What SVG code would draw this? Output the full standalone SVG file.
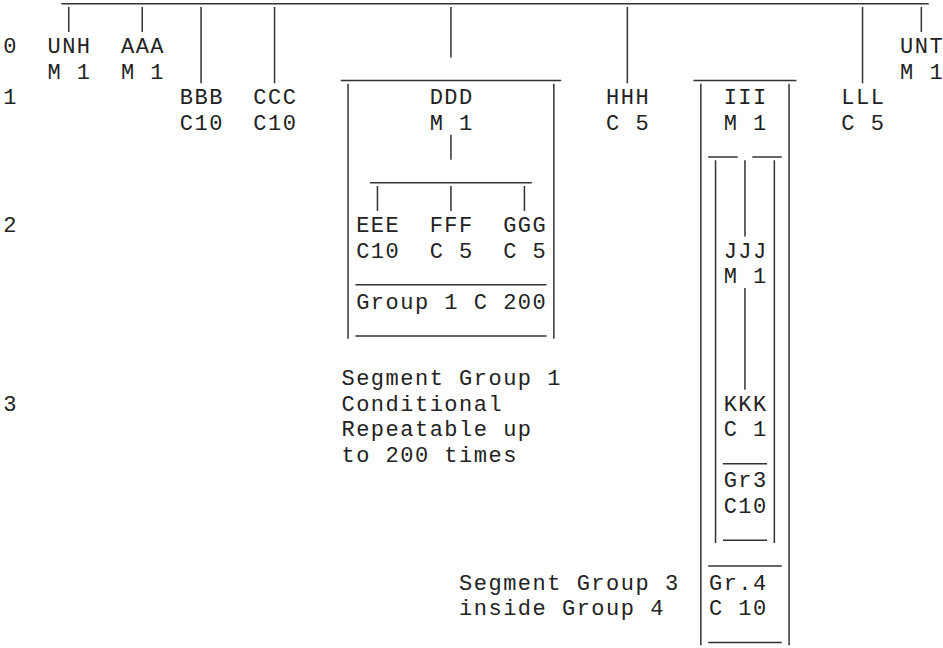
<svg xmlns="http://www.w3.org/2000/svg" width="943" height="648" viewBox="0 0 943 648">
<style>
.t{font-family:"Liberation Mono","Courier New",monospace;font-size:22px;letter-spacing:1.5px;fill:#222;white-space:pre}
.l{stroke:#333;stroke-width:1.5;fill:none}
</style>
<rect width="943" height="648" fill="#fff"/>
<g id="levels">
<text class="t" x="3.35" y="53.1">0</text>
<text class="t" x="3.35" y="104.2">1</text>
<text class="t" x="3.35" y="231.95">2</text>
<text class="t" x="3.35" y="410.8">3</text>
</g>
<g id="connectors" class="l">
<path d="M61.4 3.8H928.7"/>
<path d="M68.75 7.05V32.05M142.25 7.05V32.05M921.35 7.05V32.05"/>
<path d="M201.05 7.05V83.15M274.55 7.05V83.15M627.35 7.05V83.15M862.55 7.05V83.15"/>
<path d="M450.95 7.05V57.6"/>
</g>
<g id="UNH"><text class="t" x="47.45" y="53.1">UNH</text><text class="t" x="47.45" y="78.65">M 1</text></g>
<g id="AAA"><text class="t" x="120.95" y="53.1">AAA</text><text class="t" x="120.95" y="78.65">M 1</text></g>
<g id="BBB"><text class="t" x="179.75" y="104.2">BBB</text><text class="t" x="179.75" y="129.75">C10</text></g>
<g id="CCC"><text class="t" x="253.25" y="104.2">CCC</text><text class="t" x="253.25" y="129.75">C10</text></g>
<g id="group1">
<path class="l" d="M340.7 80.45H561.2M348.05 83.7V338.65M553.85 83.7V338.65"/>
<g id="DDD"><text class="t" x="429.65" y="104.2">DDD</text><text class="t" x="429.65" y="129.75">M 1</text></g>
<path class="l" d="M450.95 134.8V159.8M370.1 182.65H531.8M377.45 185.9V210.9M450.95 185.9V210.9M524.45 185.9V210.9"/>
<g id="EEE"><text class="t" x="356.15" y="231.95">EEE</text><text class="t" x="356.15" y="257.5">C10</text></g>
<g id="FFF"><text class="t" x="429.65" y="231.95">FFF</text><text class="t" x="429.65" y="257.5">C 5</text></g>
<g id="GGG"><text class="t" x="503.15" y="231.95">GGG</text><text class="t" x="503.15" y="257.5">C 5</text></g>
<path class="l" d="M355.4 284.85H546.5M355.4 335.95H546.5"/>
<text class="t" x="356.15" y="308.6">Group 1 C 200</text>
</g>
<g id="note1">
<text class="t" x="341.45" y="385.25">Segment Group 1</text>
<text class="t" x="341.45" y="410.8">Conditional</text>
<text class="t" x="341.45" y="436.35">Repeatable up</text>
<text class="t" x="341.45" y="461.9">to 200 times</text>
</g>
<g id="HHH"><text class="t" x="606.05" y="104.2">HHH</text><text class="t" x="606.05" y="129.75">C 5</text></g>
<g id="group4">
<path class="l" d="M693.5 80.45H796.4M700.85 83.7V645.25M789.05 83.7V645.25"/>
<g id="III"><text class="t" x="723.65" y="104.2">III</text><text class="t" x="723.65" y="129.75">M 1</text></g>
<path class="l" d="M708.2 157.1H737.6M752.3 157.1H781.7M715.55 160.35V543.05M774.35 160.35V543.05M744.95 160.35V236.45M744.95 288.1V389.75"/>
<g id="JJJ"><text class="t" x="723.65" y="257.5">JJJ</text><text class="t" x="723.65" y="283.05">M 1</text></g>
<g id="KKK"><text class="t" x="723.65" y="410.8">KKK</text><text class="t" x="723.65" y="436.35">C 1</text></g>
<g id="group3">
<path class="l" d="M722.9 463.7H767M722.9 540.35H767"/>
<text class="t" x="723.65" y="487.45">Gr3</text><text class="t" x="723.65" y="513">C10</text>
</g>
<path class="l" d="M708.2 565.9H781.7M708.2 642.55H781.7"/>
<text class="t" x="708.95" y="589.65">Gr.4</text><text class="t" x="708.95" y="615.2">C 10</text>
</g>
<g id="note3">
<text class="t" x="459.05" y="589.65">Segment Group 3</text>
<text class="t" x="459.05" y="615.2">inside Group 4</text>
</g>
<g id="LLL"><text class="t" x="841.25" y="104.2">LLL</text><text class="t" x="841.25" y="129.75">C 5</text></g>
<g id="UNT"><text class="t" x="900.05" y="53.1">UNT</text><text class="t" x="900.05" y="78.65">M 1</text></g>
</svg>
